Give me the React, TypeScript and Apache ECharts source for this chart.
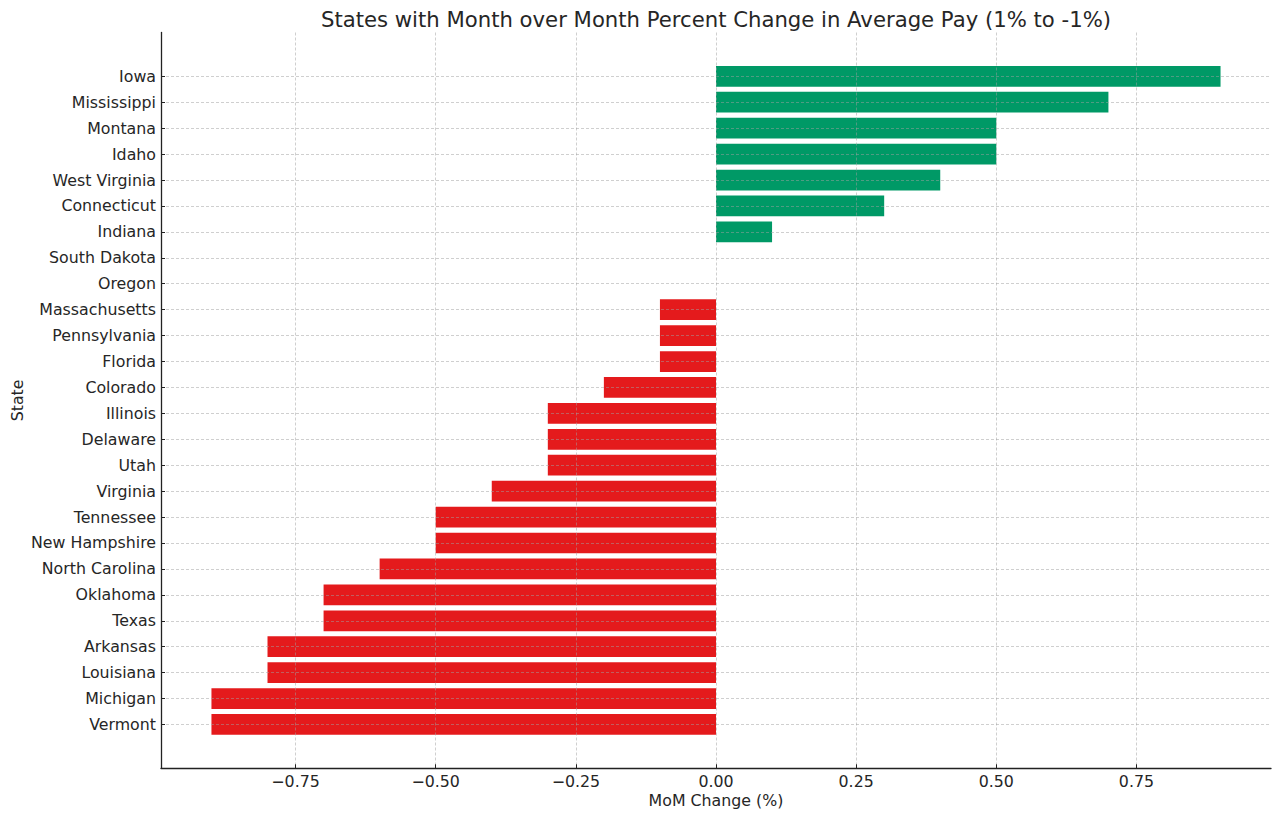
import React, { useEffect, useRef } from "react";
import * as echarts from "echarts";

const states = [
  "Iowa", "Mississippi", "Montana", "Idaho", "West Virginia", "Connecticut", "Indiana",
  "South Dakota", "Oregon", "Massachusetts", "Pennsylvania", "Florida", "Colorado",
  "Illinois", "Delaware", "Utah", "Virginia", "Tennessee", "New Hampshire",
  "North Carolina", "Oklahoma", "Texas", "Arkansas", "Louisiana", "Michigan", "Vermont",
];
const momChange = [
  0.9, 0.7, 0.5, 0.5, 0.4, 0.3, 0.1,
  0, 0, -0.1, -0.1, -0.1, -0.2,
  -0.3, -0.3, -0.3, -0.4, -0.5, -0.5,
  -0.6, -0.7, -0.7, -0.8, -0.8, -0.9, -0.9,
];
const xTicks = [-0.75, -0.5, -0.25, 0, 0.25, 0.5, 0.75];
const titleText = "States with Month over Month Percent Change in Average Pay (1% to -1%)";

const GREEN = "#009966";
const RED = "#e41a1c";
const TEXT = "#262626";
const FONT = "DejaVu Sans";

export default function App() {
  const ref = useRef<HTMLDivElement>(null);
  useEffect(() => {
    document.body.style.margin = "0";
    if (!ref.current) return;
    const chart = echarts.init(ref.current, undefined, { renderer: "svg" });
    const data = momChange.map((v, i) => [v, i]);
    const yTickVals = states.map((_, i) => i);
    chart.setOption({
      animation: false,
      backgroundColor: "#ffffff",
      textStyle: { fontFamily: FONT },
      graphic: [
        {
          type: "text",
          x: 716,
          y: 19,
          style: {
            text: titleText,
            textAlign: "center",
            textVerticalAlign: "middle",
            fontFamily: FONT,
            fontSize: 21.2,
            fill: TEXT,
          },
        },
      ],
      grid: {
        left: 161,
        right: 9,
        top: 32.5,
        bottom: 50.7,
        containLabel: false,
        outerBoundsMode: "none",
      },
      xAxis: {
        type: "value",
        min: -0.99,
        max: 0.99,
        z: 3,
        name: "MoM Change (%)",
        nameLocation: "middle",
        nameGap: 24,
        nameMoveOverlap: false,
        nameTextStyle: { fontFamily: FONT, fontSize: 15.8, color: TEXT },
        axisLine: { show: true, onZero: false, lineStyle: { color: "#222", width: 1.3 } },
        axisTick: { show: true, inside: true, length: 4, customValues: xTicks, lineStyle: { color: "#222" } },
        axisLabel: {
          show: true,
          customValues: xTicks,
          margin: 5,
          fontFamily: FONT,
          fontSize: 15.8,
          color: TEXT,
          formatter: (v: number) => (v < 0 ? "\u2212" + Math.abs(v).toFixed(2) : v.toFixed(2)),
        },
        splitLine: {
          show: true,
          lineStyle: { color: "rgba(160,160,160,0.5)", type: [3, 2], width: 1 },
        },
      },
      yAxis: {
        type: "value",
        inverse: true,
        min: -1.69,
        max: 26.69,
        z: 3,
        name: "State",
        nameLocation: "middle",
        nameGap: 136,
        nameMoveOverlap: false,
        nameTextStyle: { fontFamily: FONT, fontSize: 15.8, color: TEXT },
        axisLine: { show: true, onZero: false, lineStyle: { color: "#222", width: 1.3 } },
        axisTick: { show: true, inside: true, length: 4, customValues: yTickVals, lineStyle: { color: "#222" } },
        axisLabel: {
          show: true,
          customValues: yTickVals,
          margin: 5,
          fontFamily: FONT,
          fontSize: 15.8,
          color: TEXT,
          formatter: (v: number) => states[Math.round(v)] ?? "",
        },
        splitLine: {
          show: true,
          lineStyle: { color: "rgba(160,160,160,0.5)", type: [3, 2], width: 1 },
        },
      },
      series: [
        {
          type: "custom",
          z: 2,
          encode: { x: 0, y: 1 },
          data,
          renderItem: (params: any, api: any) => {
            const v = api.value(0);
            const idx = api.value(1);
            const p0 = api.coord([0, idx]);
            const p1 = api.coord([v, idx]);
            const h = api.size([0, 0.8])[1];
            return {
              type: "rect",
              shape: {
                x: Math.min(p0[0], p1[0]),
                y: p0[1] - h / 2,
                width: Math.abs(p1[0] - p0[0]),
                height: h,
              },
              style: { fill: v >= 0 ? GREEN : RED },
            };
          },
        },
      ],
    });
    return () => chart.dispose();
  }, []);
  return <div ref={ref} style={{ width: 1280, height: 819 }} />;
}
